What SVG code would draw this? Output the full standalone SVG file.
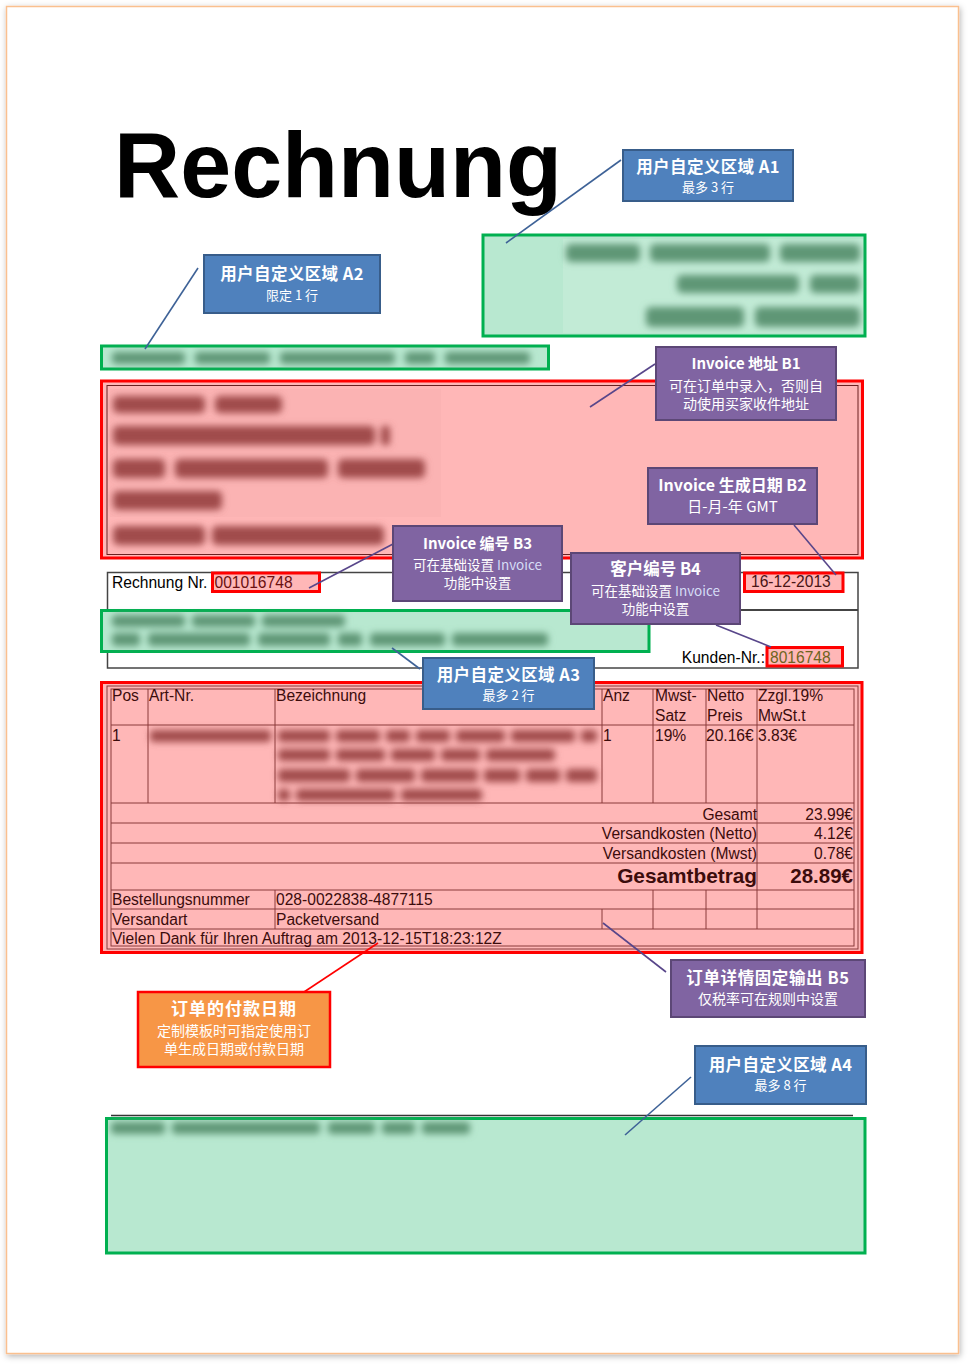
<svg xmlns="http://www.w3.org/2000/svg" width="969" height="1364" viewBox="0 0 969 1364">
<defs>
<filter id="shadow" x="-5%" y="-5%" width="110%" height="110%">
<feDropShadow dx="1" dy="2" stdDeviation="3" flood-color="#000" flood-opacity="0.3"/>
</filter>
<filter id="blur" x="-20%" y="-100%" width="140%" height="300%">
<feGaussianBlur stdDeviation="3.8"/>
</filter>
</defs>
<style>
.cn{font-family:"Noto Sans CJK SC","Noto Sans",sans-serif;fill:#fff;text-anchor:middle}
.h{font-weight:bold;font-size:16.5px;letter-spacing:0.4px}
.s{font-size:13px}
.m{font-size:14px}
.blue{fill:#4f81bd;stroke:#385d8a;stroke-width:2}
.purple{fill:#8064a2;stroke:#5c4776;stroke-width:2}
.orange{fill:#f79646;stroke:#ff0000;stroke-width:2.5}
.green{fill:#b8e8d0;stroke:#00b050;stroke-width:3}
.red{fill:#ffb7b7;stroke:#ff0000;stroke-width:3}
.bg{fill:#5f9676}
.bp{fill:#a04c4c}
.tb{font-family:"Liberation Sans",Arial,sans-serif;font-size:15.6px;fill:#3c0c0c}
.r{text-anchor:end}
.grid{stroke:#8a3a3a;stroke-width:1;fill:none}
.ca{stroke:#3e6297;stroke-width:1.6;fill:none}
.cb{stroke:#58468a;stroke-width:1.6;fill:none}
.cr{stroke:#ff0000;stroke-width:1.6;fill:none}
.lt{fill:#d6dcf6}
</style>
<rect width="969" height="1364" fill="#fff"/>
<rect id="page" x="6.5" y="6.5" width="952" height="1347" fill="#fff" stroke="#fac08f" stroke-width="1.5" filter="url(#shadow)"/>

<text id="title" x="114" y="197" font-family="Liberation Sans,Arial,sans-serif" font-weight="bold" font-size="93" textLength="448" lengthAdjust="spacingAndGlyphs" fill="#000">Rechnung</text>

<!-- Area A1 -->
<g id="area-a1">
<rect class="green" x="483" y="235" width="382" height="101"/>
<rect x="563" y="239" width="300" height="94" fill="#c2ebd6"/>
<g filter="url(#blur)" class="bg">
<rect x="566" y="244" width="74" height="18" rx="5"/><rect x="650" y="244" width="120" height="18" rx="5"/><rect x="780" y="244" width="80" height="18" rx="5"/>
<rect x="677" y="275" width="122" height="18" rx="5"/><rect x="810" y="275" width="50" height="18" rx="5"/>
<rect x="646" y="307" width="98" height="20" rx="5"/><rect x="755" y="307" width="105" height="20" rx="5"/>
</g>
</g>

<!-- Area A2 -->
<g id="area-a2">
<rect class="green" x="101.5" y="346" width="447" height="23"/>
<g filter="url(#blur)" class="bg">
<rect x="112" y="352" width="73" height="12" rx="4"/><rect x="195" y="352" width="75" height="12" rx="4"/><rect x="280" y="352" width="115" height="12" rx="4"/><rect x="405" y="352" width="30" height="12" rx="4"/><rect x="445" y="352" width="85" height="12" rx="4"/>
</g>
</g>

<!-- Area B1 address -->
<g id="area-b1">
<rect class="red" x="101.5" y="381" width="761" height="177"/>
<rect x="107" y="385.5" width="751" height="169" fill="none" stroke="#6a2020" stroke-width="1"/>
<rect x="110" y="389" width="331" height="128" fill="#fbb3b3"/>
<g filter="url(#blur)" class="bp">
<rect x="113" y="396" width="92" height="17" rx="5"/><rect x="215" y="396" width="67" height="17" rx="5"/>
<rect x="113" y="426" width="262" height="19" rx="5"/><rect x="381" y="426" width="9" height="19" rx="3"/>
<rect x="113" y="459" width="52" height="19" rx="5"/><rect x="175" y="459" width="153" height="19" rx="5"/><rect x="338" y="459" width="87" height="19" rx="5"/>
<rect x="113" y="491" width="109" height="19" rx="5"/>
<rect x="113" y="526" width="92" height="19" rx="5"/><rect x="212" y="526" width="172" height="19" rx="5"/>
</g>
</g>

<!-- Header info box -->
<g id="header-box">
<rect x="107.5" y="572.5" width="750.5" height="95.5" fill="#fff" stroke="#444" stroke-width="1.5"/>
<line x1="107.5" y1="610" x2="858" y2="610" stroke="#444" stroke-width="1.8"/>
<text class="tb" x="112" y="588" style="fill:#000">Rechnung Nr.</text>
<text class="tb r" x="765" y="663" style="fill:#000">Kunden-Nr.:</text>
</g>

<g id="field-b3">
<rect class="red" x="212.5" y="573" width="107" height="18.5" stroke-width="2.5"/>
<text class="tb" x="214.5" y="588" style="fill:#6b1010">001016748</text>
</g>
<g id="field-b2">
<rect class="red" x="744.5" y="573" width="98.5" height="18.5" stroke-width="2.5"/>
<text class="tb" x="751" y="587" style="fill:#4a1414">16-12-2013</text>
</g>
<g id="field-b4">
<rect class="red" x="767" y="647.5" width="75.5" height="18.5" stroke-width="2.5"/>
<text class="tb" x="770" y="663" style="fill:#6e6420">8016748</text>
</g>

<!-- Area A3 -->
<g id="area-a3">
<rect class="green" x="101.5" y="610.5" width="547.5" height="41"/>
<g filter="url(#blur)" class="bg">
<rect x="112" y="615" width="73" height="12" rx="4"/><rect x="192" y="615" width="63" height="12" rx="4"/><rect x="262" y="615" width="83" height="12" rx="4"/>
<rect x="112" y="633" width="28" height="13" rx="4"/><rect x="148" y="633" width="102" height="13" rx="4"/><rect x="258" y="633" width="72" height="13" rx="4"/><rect x="338" y="633" width="24" height="13" rx="4"/><rect x="370" y="633" width="75" height="13" rx="4"/><rect x="452" y="633" width="96" height="13" rx="4"/>
</g>
</g>

<!-- Area B5 table -->
<g id="area-b5">
<rect class="red" x="101.5" y="682.5" width="760.5" height="270"/>
<rect class="grid" x="107" y="686" width="751" height="263"/>
<rect class="grid" x="111" y="689" width="743" height="257"/>
<g class="grid">
<line x1="111" y1="725" x2="854" y2="725"/>
<line x1="111" y1="803" x2="854" y2="803"/>
<line x1="111" y1="823" x2="854" y2="823"/>
<line x1="111" y1="843" x2="854" y2="843"/>
<line x1="111" y1="863" x2="854" y2="863"/>
<line x1="111" y1="890" x2="854" y2="890"/>
<line x1="111" y1="909" x2="854" y2="909"/>
<line x1="111" y1="929" x2="854" y2="929"/>
<line x1="148" y1="689" x2="148" y2="803"/>
<line x1="275" y1="689" x2="275" y2="803"/>
<line x1="602" y1="689" x2="602" y2="803"/>
<line x1="653" y1="689" x2="653" y2="803"/>
<line x1="706" y1="689" x2="706" y2="803"/>
<line x1="757" y1="689" x2="757" y2="929"/>
<line x1="275" y1="890" x2="275" y2="929"/>
<line x1="653" y1="890" x2="653" y2="929"/>
<line x1="706" y1="890" x2="706" y2="929"/>
<line x1="602" y1="909" x2="602" y2="929"/>
</g>
<g filter="url(#blur)" class="bp">
<rect x="150" y="730" width="121" height="12" rx="4"/>
<rect x="278" y="730" width="52" height="12" rx="4"/><rect x="336" y="730" width="44" height="12" rx="4"/><rect x="386" y="730" width="24" height="12" rx="4"/><rect x="416" y="730" width="34" height="12" rx="4"/><rect x="456" y="730" width="49" height="12" rx="4"/><rect x="511" y="730" width="64" height="12" rx="4"/><rect x="581" y="730" width="16" height="12" rx="4"/>
<rect x="278" y="749" width="52" height="12" rx="4"/><rect x="336" y="749" width="49" height="12" rx="4"/><rect x="391" y="749" width="44" height="12" rx="4"/><rect x="441" y="749" width="39" height="12" rx="4"/><rect x="486" y="749" width="69" height="12" rx="4"/>
<rect x="278" y="769" width="72" height="13" rx="4"/><rect x="356" y="769" width="59" height="13" rx="4"/><rect x="421" y="769" width="57" height="13" rx="4"/><rect x="484" y="769" width="36" height="13" rx="4"/><rect x="526" y="769" width="34" height="13" rx="4"/><rect x="566" y="769" width="31" height="13" rx="4"/>
<rect x="278" y="789" width="12" height="12" rx="4"/><rect x="296" y="789" width="99" height="12" rx="4"/><rect x="401" y="789" width="81" height="12" rx="4"/>
</g>
<text class="tb" x="112" y="701">Pos</text>
<text class="tb" x="149" y="701">Art-Nr.</text>
<text class="tb" x="276" y="701">Bezeichnung</text>
<text class="tb" x="603" y="701">Anz</text>
<text class="tb" x="655" y="701">Mwst-</text>
<text class="tb" x="655" y="721">Satz</text>
<text class="tb" x="707" y="701">Netto</text>
<text class="tb" x="707" y="721">Preis</text>
<text class="tb" x="758" y="701">Zzgl.19%</text>
<text class="tb" x="758" y="721">MwSt.t</text>
<text class="tb" x="112" y="741">1</text>
<text class="tb" x="603" y="741">1</text>
<text class="tb" x="655" y="741">19%</text>
<text class="tb" x="706" y="741">20.16€</text>
<text class="tb" x="758" y="741">3.83€</text>
<text class="tb r" x="757" y="820">Gesamt</text>
<text class="tb r" x="853" y="820">23.99€</text>
<text class="tb r" x="757" y="839">Versandkosten (Netto)</text>
<text class="tb r" x="853" y="839">4.12€</text>
<text class="tb r" x="757" y="859">Versandkosten (Mwst)</text>
<text class="tb r" x="853" y="859">0.78€</text>
<text class="tb r" x="757" y="883" font-weight="bold" style="font-size:20.8px">Gesamtbetrag</text>
<text class="tb r" x="853" y="883" font-weight="bold" style="font-size:20.5px">28.89€</text>
<text class="tb" x="112" y="905">Bestellungsnummer</text>
<text class="tb" x="276" y="905">028-0022838-4877115</text>
<text class="tb" x="112" y="925">Versandart</text>
<text class="tb" x="276" y="925">Packetversand</text>
<text class="tb" x="112" y="944">Vielen Dank für Ihren Auftrag am 2013-12-15T18:23:12Z</text>
</g>

<!-- Area A4 -->
<g id="area-a4">
<line x1="111" y1="1115.5" x2="853" y2="1115.5" stroke="#333" stroke-width="1.5"/>
<rect class="green" x="106.5" y="1118.5" width="758.5" height="134.5"/>
<g filter="url(#blur)" class="bg">
<rect x="111" y="1122" width="54" height="12" rx="4"/><rect x="172" y="1122" width="148" height="12" rx="4"/><rect x="328" y="1122" width="47" height="12" rx="4"/><rect x="382" y="1122" width="33" height="12" rx="4"/><rect x="422" y="1122" width="48" height="12" rx="4"/>
</g>
</g>

<!-- Connectors -->
<g id="connectors">
<line class="ca" x1="621" y1="160" x2="506" y2="243"/>
<line class="ca" x1="198" y1="268" x2="145" y2="349"/>
<line class="cb" x1="655" y1="364" x2="590" y2="407"/>
<line class="cb" x1="794" y1="525" x2="836" y2="575"/>
<line class="cb" x1="393" y1="544" x2="309" y2="588"/>
<line class="cb" x1="716" y1="625" x2="771" y2="647"/>
<line class="ca" x1="392" y1="648" x2="420" y2="669"/>
<line class="cr" x1="378" y1="943" x2="304" y2="992"/>
<line class="cb" x1="603" y1="923" x2="666" y2="972"/>
<line class="ca" x1="691" y1="1077" x2="625" y2="1135"/>
</g>

<!-- Label nodes -->
<g id="label-a1">
<rect class="blue" x="623" y="150" width="170" height="51"/>
<text class="cn h" x="708" y="173">用户自定义区域 A1</text>
<text class="cn s" x="708" y="192">最多 3 行</text>
</g>
<g id="label-a2">
<rect class="blue" x="204" y="255" width="176" height="58"/>
<text class="cn h" x="292" y="280">用户自定义区域 A2</text>
<text class="cn s" x="292" y="300">限定 1 行</text>
</g>
<g id="label-b1">
<rect class="purple" x="656" y="347" width="180" height="73"/>
<text class="cn" x="746" y="369" font-weight="bold" font-size="15">Invoice 地址 B1</text>
<text class="cn m" x="746" y="391">可在订单中录入，否则自</text>
<text class="cn m" x="746" y="409">动使用买家收件地址</text>
</g>
<g id="label-b2">
<rect class="purple" x="648" y="468" width="169" height="56"/>
<text class="cn" x="732.5" y="491" font-weight="bold" font-size="16">Invoice 生成日期 B2</text>
<text class="cn" x="732.5" y="512" font-size="15">日-月-年 GMT</text>
</g>
<g id="label-b3">
<rect class="purple" x="393" y="526" width="169" height="75"/>
<text class="cn" x="477.5" y="549" font-weight="bold" font-size="15">Invoice 编号 B3</text>
<text class="cn" x="477.5" y="570" font-size="13.5">可在基础设置 <tspan class="lt">Invoice</tspan></text>
<text class="cn" x="477.5" y="588" font-size="13.5">功能中设置</text>
</g>
<g id="label-b4">
<rect class="purple" x="571" y="553" width="169" height="71"/>
<text class="cn" x="655.5" y="575" font-weight="bold" font-size="16.5">客户编号 B4</text>
<text class="cn" x="655.5" y="595.5" font-size="13.5">可在基础设置 <tspan class="lt">Invoice</tspan></text>
<text class="cn" x="655.5" y="614" font-size="13.5">功能中设置</text>
</g>
<g id="label-a3">
<rect class="blue" x="423" y="658" width="171" height="51"/>
<text class="cn h" x="508.5" y="681">用户自定义区域 A3</text>
<text class="cn s" x="508.5" y="700">最多 2 行</text>
</g>
<g id="label-b5">
<rect class="purple" x="671" y="960" width="194" height="57"/>
<text class="cn" x="768" y="984" font-weight="bold" font-size="16.5" letter-spacing="0.6">订单详情固定输出 B5</text>
<text class="cn m" x="768" y="1004">仅税率可在规则中设置</text>
</g>
<g id="label-paydate">
<rect class="orange" x="138" y="992" width="192" height="75"/>
<text class="cn" x="234" y="1015" font-weight="bold" font-size="17" letter-spacing="1">订单的付款日期</text>
<text class="cn m" x="234" y="1036">定制模板时可指定使用订</text>
<text class="cn m" x="234" y="1054">单生成日期或付款日期</text>
</g>
<g id="label-a4">
<rect class="blue" x="695" y="1046" width="171" height="58"/>
<text class="cn h" x="780.5" y="1071">用户自定义区域 A4</text>
<text class="cn s" x="780.5" y="1090">最多 8 行</text>
</g>
</svg>
